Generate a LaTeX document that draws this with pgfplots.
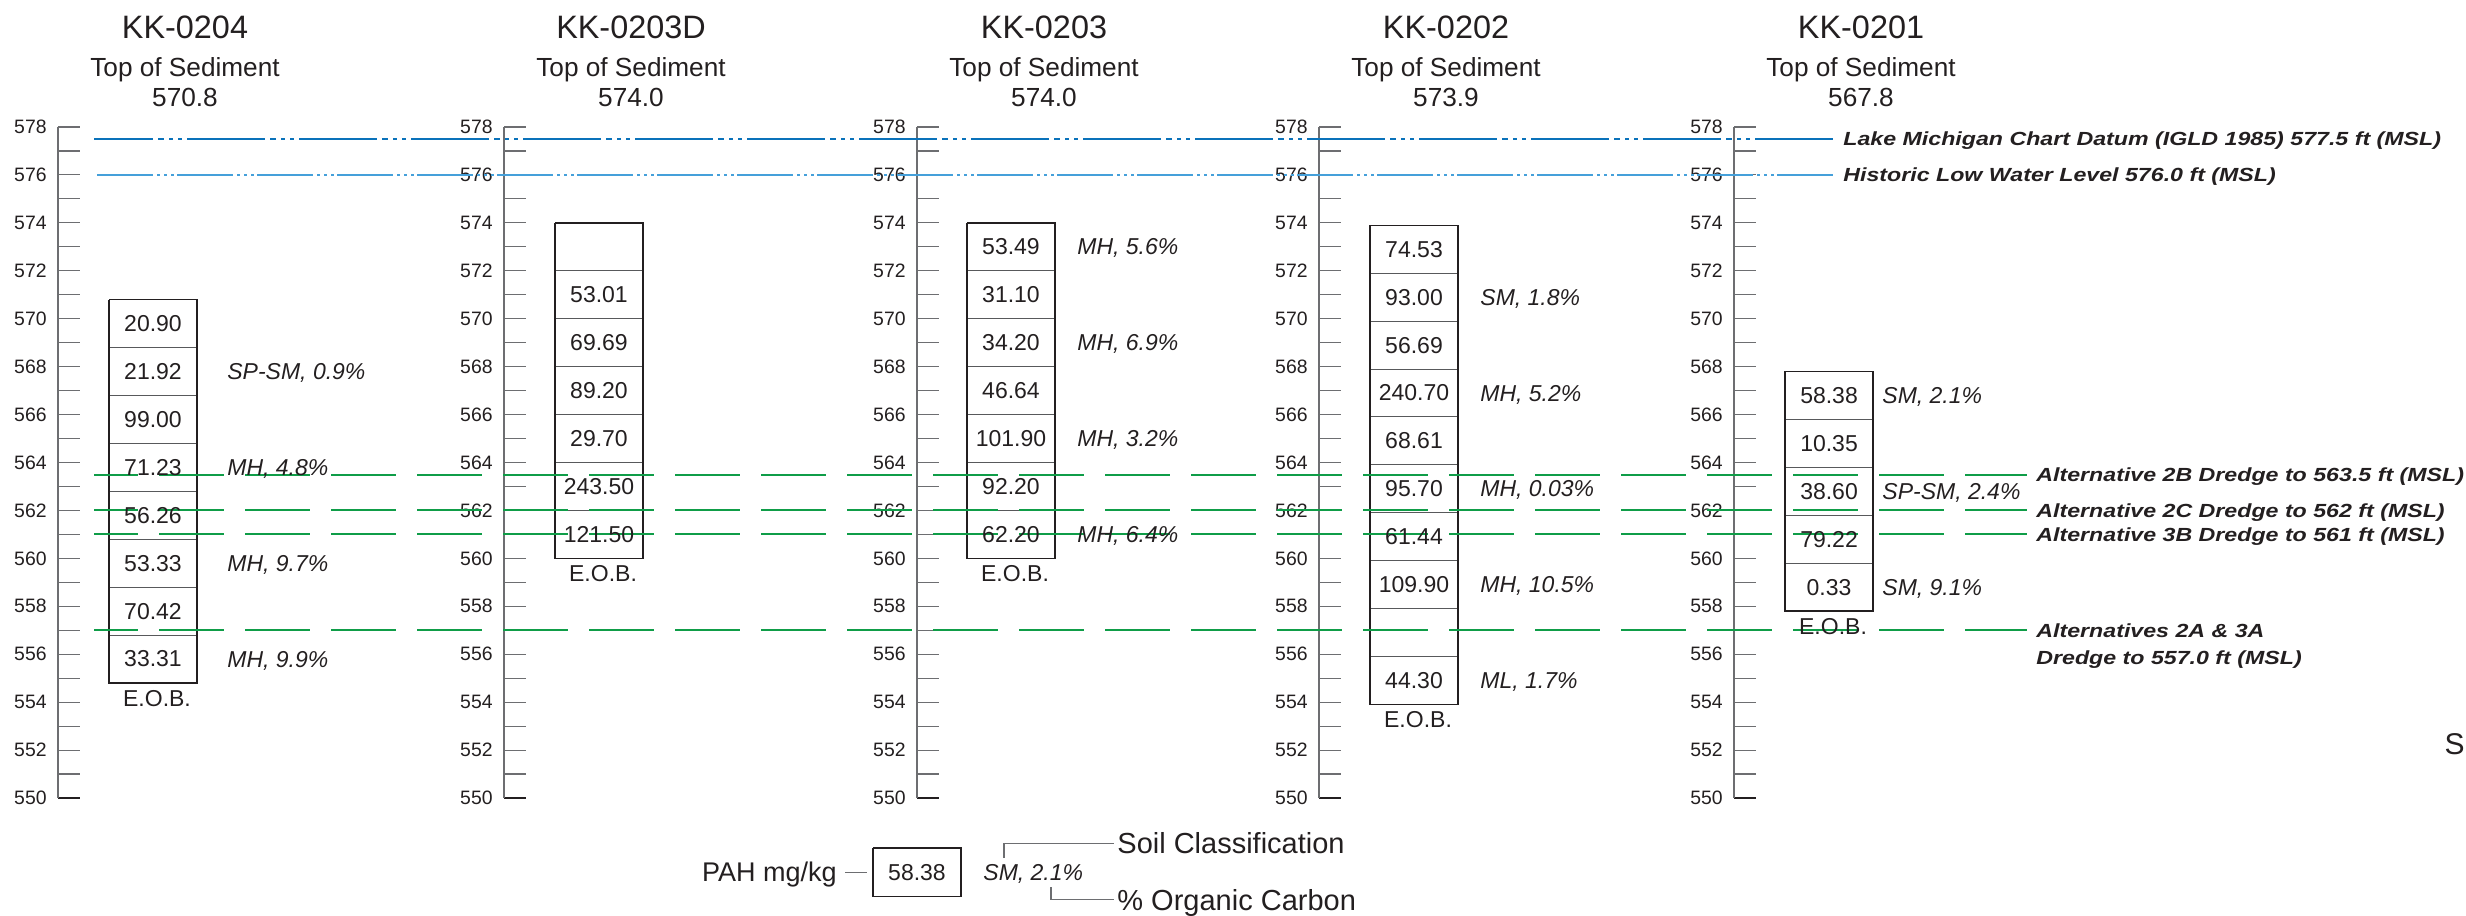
\documentclass[border=0pt]{standalone}
\usepackage{pgfplots}
\pgfplotsset{compat=1.18}
\usepackage{pgfplotstable}
\usepackage{fontspec}
\setmainfont{Liberation Sans}
\newfontfamily\widefont[FakeStretch=1.22]{Liberation Sans}
\definecolor{txt}{HTML}{231F20}
\definecolor{axgray}{HTML}{6D6E71}
\definecolor{divgray}{HTML}{58595B}
\definecolor{dblue}{HTML}{0A72BA}
\definecolor{lblue}{HTML}{45A0DA}
\definecolor{dgreen}{HTML}{0F9D48}

% PAH values (mg/kg): x = box centre (px), y = segment mid elevation
\pgfplotstableread[col sep=semicolon,row sep=\\]{
x;y;v\\
153;569.8;20.90\\
153;567.8;21.92\\
153;565.8;99.00\\
153;563.8;71.23\\
153;561.8;56.26\\
153;559.8;53.33\\
153;557.8;70.42\\
153;555.8;33.31\\
599;571;53.01\\
599;569;69.69\\
599;567;89.20\\
599;565;29.70\\
599;563;243.50\\
599;561;121.50\\
1011;573;53.49\\
1011;571;31.10\\
1011;569;34.20\\
1011;567;46.64\\
1011;565;101.90\\
1011;563;92.20\\
1011;561;62.20\\
1414;572.9;74.53\\
1414;570.9;93.00\\
1414;568.9;56.69\\
1414;566.9;240.70\\
1414;564.9;68.61\\
1414;562.9;95.70\\
1414;560.9;61.44\\
1414;558.9;109.90\\
1414;554.9;44.30\\
1829;566.8;58.38\\
1829;564.8;10.35\\
1829;562.8;38.60\\
1829;560.8;79.22\\
1829;558.8;0.33\\
917;546.91;58.38\\
}\pahtab

% soil classification, % organic carbon
\pgfplotstableread[col sep=semicolon,row sep=\\]{
x;y;v\\
227;567.8;SP-SM, 0.9\%\\
227;563.8;MH, 4.8\%\\
227;559.8;MH, 9.7\%\\
227;555.8;MH, 9.9\%\\
1077;573;MH, 5.6\%\\
1077;569;MH, 6.9\%\\
1077;565;MH, 3.2\%\\
1077;561;MH, 6.4\%\\
1480;570.9;SM, 1.8\%\\
1480;566.9;MH, 5.2\%\\
1480;562.9;MH, 0.03\%\\
1480;558.9;MH, 10.5\%\\
1480;554.9;ML, 1.7\%\\
1882;566.8;SM, 2.1\%\\
1882;562.8;SP-SM, 2.4\%\\
1882;558.8;SM, 9.1\%\\
983;546.91;SM, 2.1\%\\
}\soiltab

\pgfplotstableread[col sep=semicolon,row sep=\\]{
x;y\\
157;554.17\\
603;559.37\\
1015;559.37\\
1418;553.27\\
1833;557.17\\
}\eobtab

\tikzset{
  lab/.style={anchor=west, text=txt, inner sep=0pt, text depth=0pt, font={\widefont\bfseries\itshape\fontsize{9.5}{11}\selectfont}},
  ttl/.style={anchor=base, text=txt, inner sep=0pt, font=\fontsize{16.2}{18}\selectfont},
  sub/.style={anchor=base, text=txt, inner sep=0pt, font=\fontsize{13.1}{15}\selectfont},
  legtxt/.style={text=txt, inner sep=0pt, text depth=0pt, font=\fontsize{13.5}{15}\selectfont},
  legbig/.style={text=txt, inner sep=0pt, text depth=0pt, font=\fontsize{14.5}{16}\selectfont},
}

\begin{document}
\begin{tikzpicture}
\pgfplotsset{
  scalestyle/.style={
    anchor=south west, scale only axis, width=11pt, height=335.5pt,
    xmin=0, xmax=1, ymin=550, ymax=578, enlargelimits=false,
    axis x line*=bottom, axis y line*=left,
    xtick=\empty, ytick={550,552,...,578}, minor y tick num=1,
    tick align=inside, major tick length=11pt, minor tick length=11pt,
    tick style={draw=axgray, line width=0.55pt},
    y axis line style={draw=axgray, line width=0.7pt},
    x axis line style={draw=txt, line width=0.8pt},
    yticklabel style={font=\fontsize{9.7}{11}\selectfont, text=txt, inner sep=0pt, xshift=-5.5pt},
    /pgf/number format/assume math mode=true,
    clip=false,
  },
  boxline/.style={draw=txt, line width=0.65pt, mark=none},
  divline/.style={draw=divgray, line width=0.5pt, mark=none},
  greenline/.style={draw=dgreen, line width=1pt, mark=none, dash pattern=on 32.5pt off 10.5pt, dash phase=10.5pt},
}
\begin{axis}[scalestyle, at={(29pt,58.5pt)}]
\addplot[draw=none] coordinates {(0,550)};
\end{axis}
\begin{axis}[scalestyle, at={(252pt,58.5pt)}]
\addplot[draw=none] coordinates {(0,550)};
\end{axis}
\begin{axis}[scalestyle, at={(458.5pt,58.5pt)}]
\addplot[draw=none] coordinates {(0,550)};
\end{axis}
\begin{axis}[scalestyle, at={(659.5pt,58.5pt)}]
\addplot[draw=none] coordinates {(0,550)};
\end{axis}
\begin{axis}[scalestyle, at={(867pt,58.5pt)}]
\addplot[draw=none] coordinates {(0,550)};
\end{axis}

\begin{axis}[name=base, at={(0pt,0pt)}, anchor=south west, scale only axis,
  width=1233pt, height=457.5pt, xmin=0, xmax=2466, ymin=545.12, ymax=583.30,
  hide axis, clip=false, unbounded coords=jump]

% --- boxes: dividers
\addplot[divline] coordinates {(109,568.8) (197,568.8) (nan,nan) (109,566.8) (197,566.8) (nan,nan) (109,564.8) (197,564.8) (nan,nan) (109,562.8) (197,562.8) (nan,nan) (109,560.8) (197,560.8) (nan,nan) (109,558.8) (197,558.8) (nan,nan) (109,556.8) (197,556.8)};
\addplot[divline] coordinates {(555,572) (643,572) (nan,nan) (555,570) (643,570) (nan,nan) (555,568) (643,568) (nan,nan) (555,566) (643,566) (nan,nan) (555,564) (643,564) (nan,nan) (555,562) (643,562)};
\addplot[divline] coordinates {(967,572) (1055,572) (nan,nan) (967,570) (1055,570) (nan,nan) (967,568) (1055,568) (nan,nan) (967,566) (1055,566) (nan,nan) (967,564) (1055,564) (nan,nan) (967,562) (1055,562)};
\addplot[divline] coordinates {(1370,571.9) (1458,571.9) (nan,nan) (1370,569.9) (1458,569.9) (nan,nan) (1370,567.9) (1458,567.9) (nan,nan) (1370,565.9) (1458,565.9) (nan,nan) (1370,563.9) (1458,563.9) (nan,nan) (1370,561.9) (1458,561.9) (nan,nan) (1370,559.9) (1458,559.9) (nan,nan) (1370,557.9) (1458,557.9) (nan,nan) (1370,555.9) (1458,555.9)};
\addplot[divline] coordinates {(1785,565.8) (1873,565.8) (nan,nan) (1785,563.8) (1873,563.8) (nan,nan) (1785,561.8) (1873,561.8) (nan,nan) (1785,559.8) (1873,559.8)};
% --- boxes: outlines
\addplot[boxline] coordinates {(109,570.8) (197,570.8) (197,554.8) (109,554.8) (109,570.8)};
\addplot[boxline] coordinates {(555,574) (643,574) (643,560) (555,560) (555,574)};
\addplot[boxline] coordinates {(967,574) (1055,574) (1055,560) (967,560) (967,574)};
\addplot[boxline] coordinates {(1370,573.9) (1458,573.9) (1458,553.9) (1370,553.9) (1370,573.9)};
\addplot[boxline] coordinates {(1785,567.8) (1873,567.8) (1873,557.8) (1785,557.8) (1785,567.8)};
\addplot[boxline] coordinates {(873,547.91) (961,547.91) (961,545.90) (873,545.90) (873,547.91)};

% --- values and classifications
\addplot[draw=none, mark=none, nodes near coords={\pgfplotspointmeta}, point meta=explicit symbolic,
  every node near coord/.append style={anchor=center, inner sep=0pt, text=txt, font=\fontsize{11.5}{13}\selectfont}]
  table[x=x, y=y, meta=v]{\pahtab};
\addplot[draw=none, mark=none, nodes near coords={\pgfplotspointmeta}, point meta=explicit symbolic,
  every node near coord/.append style={anchor=west, inner sep=0pt, text depth=0pt, text=txt, font=\itshape\fontsize{11.5}{13}\selectfont}]
  table[x=x, y=y, meta=v]{\soiltab};
\addplot[draw=none, mark=none, nodes near coords={E.O.B.},
  every node near coord/.append style={anchor=center, inner sep=0pt, text=txt, font=\fontsize{11.5}{13}\selectfont}]
  table[x=x, y=y]{\eobtab};

% --- reference elevations
\addplot[draw=dblue, line width=1pt, mark=none, dash pattern=on 39pt off 2.5pt on 3pt off 2.5pt on 2pt off 2.5pt on 2pt off 2.5pt, dash phase=9.5pt] coordinates {(94,577.5) (1833,577.5)};
\addplot[draw=lblue, line width=0.85pt, mark=none, dash pattern=on 28pt off 2pt on 1.5pt off 2pt on 1.5pt off 2pt on 1.5pt off 1.5pt] coordinates {(97,576.0) (1833,576.0)};
\addplot[greenline] coordinates {(94,563.5) (2027,563.5)};
\addplot[greenline] coordinates {(94,562) (2027,562)};
\addplot[greenline] coordinates {(94,561) (2027,561)};
\addplot[greenline] coordinates {(94,557) (2027,557)};

% --- legend leaders
\addplot[draw=axgray, line width=0.55pt, mark=none] coordinates {(845,546.91) (867,546.91)};
\addplot[draw=axgray, line width=0.55pt, mark=none] coordinates {(1004,547.49) (1004,548.12) (1114,548.12)};
\addplot[draw=axgray, line width=0.55pt, mark=none] coordinates {(1051,546.28) (1051,545.75) (1114,545.75)};

% --- titles
\node[ttl] at (axis cs:185,581.70) {KK-0204};
\node[sub] at (axis cs:185,580.10) {Top of Sediment};
\node[sub] at (axis cs:185,578.85) {570.8};
\node[ttl] at (axis cs:631,581.70) {KK-0203D};
\node[sub] at (axis cs:631,580.10) {Top of Sediment};
\node[sub] at (axis cs:631,578.85) {574.0};
\node[ttl] at (axis cs:1044,581.70) {KK-0203};
\node[sub] at (axis cs:1044,580.10) {Top of Sediment};
\node[sub] at (axis cs:1044,578.85) {574.0};
\node[ttl] at (axis cs:1446,581.70) {KK-0202};
\node[sub] at (axis cs:1446,580.10) {Top of Sediment};
\node[sub] at (axis cs:1446,578.85) {573.9};
\node[ttl] at (axis cs:1861,581.70) {KK-0201};
\node[sub] at (axis cs:1861,580.10) {Top of Sediment};
\node[sub] at (axis cs:1861,578.85) {567.8};

% --- line labels
\node[lab] at (axis cs:1843,577.5) {Lake Michigan Chart Datum (IGLD 1985) 577.5 ft (MSL)};
\node[lab] at (axis cs:1843,576.0) {Historic Low Water Level 576.0 ft (MSL)};
\node[lab] at (axis cs:2036,563.5) {Alternative 2B Dredge to 563.5 ft (MSL)};
\node[lab] at (axis cs:2036,562.0) {Alternative 2C Dredge to 562 ft (MSL)};
\node[lab] at (axis cs:2036,561.0) {Alternative 3B Dredge to 561 ft (MSL)};
\node[lab] at (axis cs:2036,557.0) {Alternatives 2A \& 3A};
\node[lab] at (axis cs:2036,555.84) {Dredge to 557.0 ft (MSL)};

% --- legend texts
\node[legtxt, anchor=east] at (axis cs:837,546.91) {PAH mg/kg};
\node[legbig, anchor=west] at (axis cs:1117,548.12) {Soil Classification};
\node[legbig, anchor=west] at (axis cs:1117,545.75) {\% Organic Carbon};

\node[anchor=east, inner sep=0pt, text=txt, font=\fontsize{15}{17}\selectfont] at (axis cs:2465,552.25) {S};
\end{axis}
\pgfresetboundingbox
\useasboundingbox (0pt,0pt) rectangle (1233pt,457.5pt);
\end{tikzpicture}
\end{document}
